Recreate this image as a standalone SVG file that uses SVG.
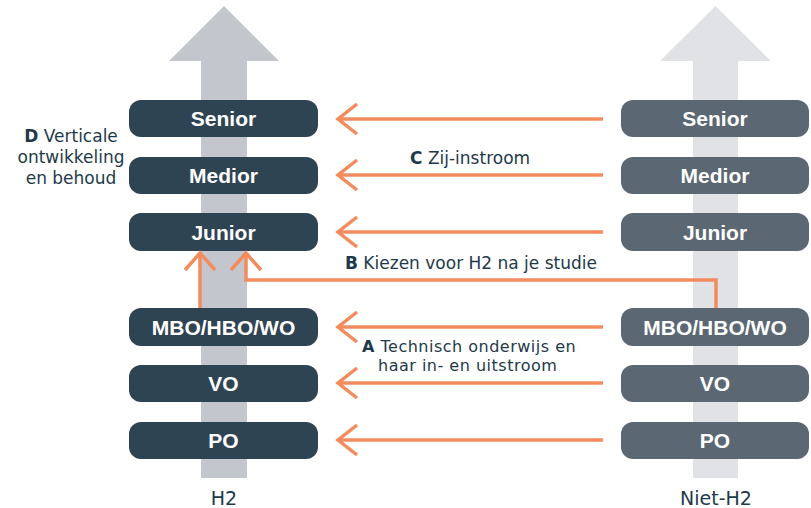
<svg xmlns="http://www.w3.org/2000/svg" width="811" height="508" viewBox="0 0 811 508">
  <style>
    .box-h2 { fill: #2f4453; }
    .box-nh2 { fill: #5b6773; }
    .box-text { font-family: "Liberation Sans", Arial, sans-serif; font-weight: bold; font-size: 21px; fill: #ffffff; text-anchor: middle; }
    .label { font-family: "DejaVu Sans", "Liberation Sans", sans-serif; font-size: 17px; fill: #1e3a4a; }
    .label tspan.key { font-weight: bold; }
    .label.tight { font-size: 16px; letter-spacing: 0.5px; }
    .col-label { font-family: "DejaVu Sans", "Liberation Sans", sans-serif; font-size: 19px; fill: #1e3a4a; text-anchor: middle; }
    .flow { fill: none; stroke: #f28c5e; stroke-width: 3.5; stroke-linejoin: miter; }
  </style>
  <rect width="811" height="508" fill="#ffffff"/>

  <!-- background growth arrows -->
  <g id="track-h2">
    <polygon points="224,6 279,61 247,61 247,478 201,478 201,61 169,61" fill="#c4c6cd"/>
  </g>
  <g id="track-niet-h2">
    <polygon points="715.5,6 771,61 738,61 738,478 693,478 693,61 660,61" fill="#e1e2e6"/>
  </g>

  <!-- H2 column -->
  <g id="h2-senior"><rect class="box-h2" x="129" y="100" width="189" height="37" rx="12"/><text class="box-text" x="223.5" y="126">Senior</text></g>
  <g id="h2-medior"><rect class="box-h2" x="129" y="157" width="189" height="37" rx="12"/><text class="box-text" x="223.5" y="183">Medior</text></g>
  <g id="h2-junior"><rect class="box-h2" x="129" y="213" width="189" height="38" rx="12"/><text class="box-text" x="223.5" y="239.5">Junior</text></g>
  <g id="h2-mbo"><rect class="box-h2" x="129" y="308" width="189" height="38" rx="12"/><text class="box-text" x="223.5" y="334.5">MBO/HBO/WO</text></g>
  <g id="h2-vo"><rect class="box-h2" x="129" y="365" width="189" height="37" rx="12"/><text class="box-text" x="223.5" y="391">VO</text></g>
  <g id="h2-po"><rect class="box-h2" x="129" y="422" width="189" height="37" rx="12"/><text class="box-text" x="223.5" y="448">PO</text></g>

  <!-- Niet-H2 column -->
  <g id="nh2-senior"><rect class="box-nh2" x="621" y="100" width="188" height="37" rx="12"/><text class="box-text" x="715" y="126">Senior</text></g>
  <g id="nh2-medior"><rect class="box-nh2" x="621" y="157" width="188" height="37" rx="12"/><text class="box-text" x="715" y="183">Medior</text></g>
  <g id="nh2-junior"><rect class="box-nh2" x="621" y="213" width="188" height="38" rx="12"/><text class="box-text" x="715" y="239.5">Junior</text></g>
  <g id="nh2-mbo"><rect class="box-nh2" x="621" y="308" width="188" height="38" rx="12"/><text class="box-text" x="715" y="334.5">MBO/HBO/WO</text></g>
  <g id="nh2-vo"><rect class="box-nh2" x="621" y="365" width="188" height="37" rx="12"/><text class="box-text" x="715" y="391">VO</text></g>
  <g id="nh2-po"><rect class="box-nh2" x="621" y="422" width="188" height="37" rx="12"/><text class="box-text" x="715" y="448">PO</text></g>

  <!-- flows between the columns -->
  <g id="connectors">
    <line class="flow" x1="603" y1="119" x2="338" y2="119"/><polyline class="flow" points="357,104 338,119 357,134"/>
    <line class="flow" x1="603" y1="175" x2="338" y2="175"/><polyline class="flow" points="357,160 338,175 357,190"/>
    <line class="flow" x1="603" y1="232" x2="338" y2="232"/><polyline class="flow" points="357,217 338,232 357,247"/>
    <line class="flow" x1="603" y1="327" x2="338" y2="327"/><polyline class="flow" points="357,312 338,327 357,342"/>
    <line class="flow" x1="603" y1="383" x2="338" y2="383"/><polyline class="flow" points="357,368 338,383 357,398"/>
    <line class="flow" x1="603" y1="440" x2="338" y2="440"/><polyline class="flow" points="357,425 338,440 357,455"/>
    <!-- B: after study into H2 junior -->
    <polyline class="flow" points="716,308 716,280 246,280 246,253"/>
    <polyline class="flow" points="231,270 246,253 261,270"/>
    <!-- own education into junior -->
    <line class="flow" x1="200" y1="308" x2="200" y2="253"/>
    <polyline class="flow" points="185,270 200,253 215,270"/>
  </g>

  <!-- flow labels -->
  <g id="label-c"><text class="label" x="410" y="164"><tspan class="key">C</tspan> Zij-instroom</text></g>
  <g id="label-b"><text class="label" x="345" y="269"><tspan class="key">B</tspan> Kiezen voor H2 na je studie</text></g>
  <g id="label-a">
    <text class="label tight" x="362" y="352"><tspan class="key">A</tspan> Technisch onderwijs en</text>
    <text class="label tight" x="378" y="371">haar in- en uitstroom</text>
  </g>
  <g id="label-d">
    <text class="label" x="71" y="142" text-anchor="middle" font-size="16.5"><tspan class="key">D</tspan> Verticale</text>
    <text class="label" x="71" y="163" text-anchor="middle" font-size="16.5">ontwikkeling</text>
    <text class="label" x="71" y="184" text-anchor="middle" font-size="16.5">en behoud</text>
  </g>

  <!-- column captions -->
  <g id="caption-h2"><text class="col-label" x="224" y="505">H2</text></g>
  <g id="caption-niet-h2"><text class="col-label" x="716" y="505">Niet-H2</text></g>
</svg>
